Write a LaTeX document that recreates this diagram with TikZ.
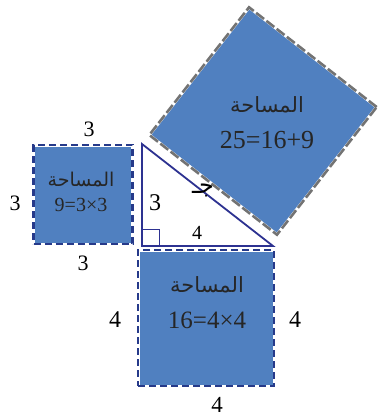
\documentclass[tikz,border=0pt]{standalone}
\usepackage{fontspec}
\setmainfont{Liberation Serif}
\newfontfamily\arabicfont[Script=Arabic]{DejaVu Sans}
\TeXXeTstate=1
\definecolor{sqfill}{RGB}{80,128,192}
\definecolor{sqedge}{RGB}{38,58,138}
\definecolor{trin}{RGB}{45,50,145}
\definecolor{bigedge}{RGB}{115,115,115}
\tikzset{
  sqbox/.style={draw=white, line width=3pt, fill=sqfill, inner sep=0pt, outer sep=0pt, minimum size=#1,
    postaction={draw=sqedge, line width=2.6pt, dash pattern=on 7pt off 4pt}},
  bigbox/.style={draw=white, line width=3pt, fill=sqfill, inner sep=0pt, outer sep=0pt, minimum size=#1,
    postaction={draw=bigedge, line width=2.6pt, dash pattern=on 10pt off 3pt}},
  lbl/.style={font=\fontsize{22}{24}\selectfont, text=black, inner sep=0pt},
  inlbl/.style={font=\fontsize{#1}{#1}\selectfont, text=black!85, inner sep=0pt},
  artxt/.style={font=\arabicfont\fontsize{#1}{#1}\selectfont, text=black!85, inner sep=0pt},
  tri/.style={draw=trin, line width=1.8pt, line join=miter},
}
\begin{document}
\begin{tikzpicture}[x=1pt,y=-1pt]
\useasboundingbox[fill=white] (0,0) rectangle (379,418);
% big square
\node[bigbox=162pt, rotate=-38] (s5) at (263,121) {};
\node[artxt=21] (a5) at (267,105) {\beginR المساحة\endR};
\node[inlbl=26] (n5) at (267,140) {25=16+9};
% small square
\node[sqbox=99pt] (s3) at (83,194.5) {};
\node[artxt=19] (a3) at (81,180) {\beginR المساحة\endR};
\node[inlbl=20] (n3) at (81,205) {9=3×3};
% bottom square
\node[sqbox=136pt] (s4) at (206,318) {};
\node[artxt=21] (a4) at (207,285) {\beginR المساحة\endR};
\node[inlbl=25] (n4) at (207,320) {16=4×4};
% triangle
\coordinate (A) at (142,144);
\coordinate (C) at (142,246);
\coordinate (B) at (273,246);
\draw[tri] (A) -- (C) -- (B) -- cycle;
\coordinate (R1) at (159,246);
\coordinate (R2) at (159,229);
\coordinate (R3) at (142,229);
\draw[draw=trin, line width=1pt] (R1) -- (R2) -- (R3);
% labels
\node[lbl] (l3t) at (89,129) {3};
\node[lbl] (l3l) at (15,203) {3};
\node[lbl] (l3b) at (83,263) {3};
\node[lbl, font=\fontsize{24}{24}\selectfont] (l3i) at (155,203) {3};
\node[lbl, font=\fontsize{20}{20}\selectfont] (l4i) at (197,233) {4};
\node[artxt=24, text=black] (lj) at (203,190) {\beginR جـ\endR};
\node[lbl, font=\fontsize{24}{24}\selectfont] (l4l) at (115,320) {4};
\node[lbl, font=\fontsize{24}{24}\selectfont] (l4r) at (295,320) {4};
\node[lbl, font=\fontsize{23}{23}\selectfont] (l4b) at (217,405) {4};
\end{tikzpicture}
\end{document}
